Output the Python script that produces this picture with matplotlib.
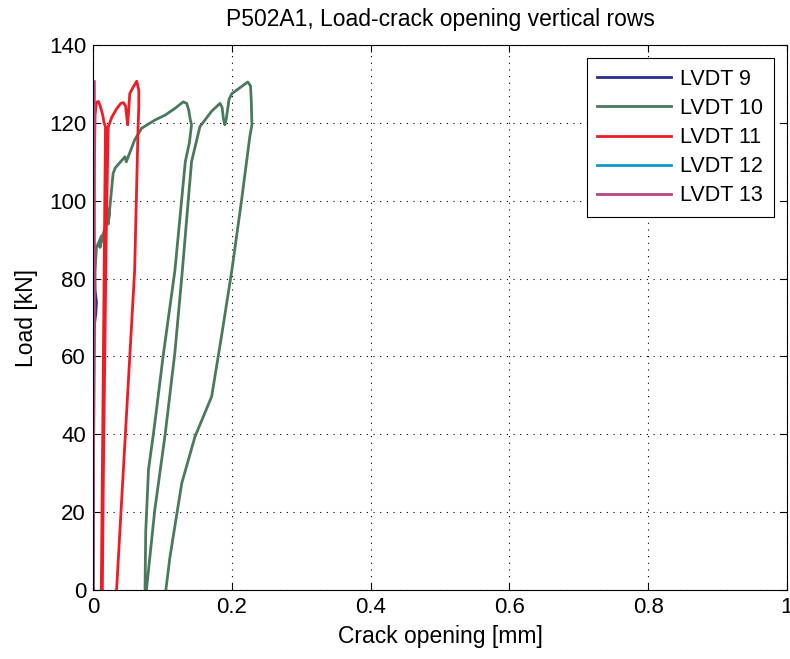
# Load-crack opening curves, P502A1 vertical rows

import numpy as np
import matplotlib.pyplot as plt

plt.rcParams['font.family'] = ['Liberation Sans', 'DejaVu Sans']

# LVDT 9 (mostly hidden along the load axis)
x9 = [0.0, 0.0005, 0.001, 0.002, 0.004, 0.005, 0.003, 0.001, 0.001]
y9 = [0.0, 30.0, 60.0, 68.0, 71.0, 74.0, 77.0, 90.0, 128.0]

# LVDT 10
x10 = [0.0, 0.001, 0.002, 0.003, 0.005, 0.0125, 0.010, 0.020, 0.024, 0.022, 0.029,
       0.032, 0.046, 0.048, 0.060, 0.070, 0.089, 0.104, 0.118, 0.130, 0.135,
       0.138, 0.140, 0.142, 0.139, 0.133, 0.118, 0.101, 0.092, 0.087, 0.080,
       0.076, 0.075, 0.077, 0.089, 0.104, 0.118, 0.128, 0.142, 0.154, 0.171,
       0.183, 0.186, 0.188, 0.190, 0.192, 0.196, 0.200, 0.210, 0.223, 0.227,
       0.228, 0.229, 0.226, 0.214, 0.200, 0.185, 0.171, 0.147, 0.128, 0.111, 0.105]
y10 = [0.0, 40.0, 70.0, 82.0, 88.0, 91.0, 88.0, 95.0, 98.0, 94.0, 107.0,
       108.4, 111.3, 110.0, 115.6, 118.6, 120.7, 122.0, 123.7, 125.4, 125.0,
       123.3, 121.0, 119.5, 115.0, 110.0, 82.0, 60.0, 47.0, 40.0, 31.0,
       15.0, 0.0, 0.0, 20.5, 40.0, 61.0, 80.5, 110.0, 119.0, 123.0,
       125.0, 124.0, 121.0, 119.5, 121.0, 126.0, 127.5, 128.8, 130.5, 129.5,
       126.0, 119.5, 116.5, 100.0, 82.0, 65.0, 49.7, 39.4, 27.5, 8.6, 0.0]

# LVDT 11
x11 = [0.0, 0.001, 0.002, 0.003, 0.005, 0.008, 0.011, 0.014, 0.016, 0.018,
       0.017, 0.015, 0.013, 0.012, 0.0135, 0.015, 0.017, 0.019, 0.021, 0.022,
       0.027, 0.034, 0.040, 0.044, 0.047, 0.049, 0.050, 0.051, 0.053, 0.058,
       0.063, 0.066, 0.066, 0.065, 0.060, 0.047, 0.034]
y11 = [0.0, 60.0, 110.0, 122.0, 125.3, 125.5, 124.0, 122.0, 120.0, 119.0,
       100.0, 60.0, 20.0, 0.0, 0.0, 30.0, 60.0, 90.0, 110.0, 119.0,
       121.4, 123.6, 125.0, 125.2, 124.3, 121.0, 119.5, 122.0, 127.5, 129.2,
       130.7, 128.4, 124.0, 119.0, 82.0, 41.0, 0.0]

# LVDT 12 (hidden along the load axis)
x12 = [0.0, 0.0005, 0.001, 0.001]
y12 = [0.0, 50.0, 100.0, 129.0]

# LVDT 13
x13 = [0.0, 0.001, 0.002, 0.0015, 0.002, 0.002]
y13 = [0.0, 40.0, 80.0, 100.0, 120.0, 130.6]

series = [(x9, y9, '#2b2b90', 'LVDT 9'),
          (x10, y10, '#4a7a5e', 'LVDT 10'),
          (x11, y11, '#ee1c25', 'LVDT 11'),
          (x12, y12, '#0a9ad0', 'LVDT 12'),
          (x13, y13, '#b8457f', 'LVDT 13')]

fig = plt.figure(figsize=(7.9, 6.59), dpi=100)
ax = fig.add_axes([0.1177, 0.1047, 0.8785, 0.827])

for x, y, c, lab in series:
    ax.plot(x, y, color=c, linewidth=2, label=lab)

ax.set_xlim(0, 1)
ax.set_ylim(0, 140)
ax.set_xticks([0, 0.2, 0.4, 0.6, 0.8, 1])
ax.set_xticklabels(['0', '0.2', '0.4', '0.6', '0.8', '1'])
ax.set_yticks(np.arange(0, 141, 20))
ax.tick_params(direction='in', top=True, right=True, labelsize=16, length=5, pad=5)
ax.grid(True, color='black', linestyle=(0, (1, 5)), linewidth=0.8)
for s in ax.spines.values():
    s.set_linewidth(0.8)

ax.set_xlabel('Crack opening [mm]', fontsize=16.5, labelpad=5)
ax.set_ylabel('Load [kN]', fontsize=16.5, labelpad=8)
ax.set_title('P502A1, Load-crack opening vertical rows', fontsize=16.5, pad=14)

leg = ax.legend(loc='upper right', fontsize=15.5, fancybox=False, framealpha=1,
                edgecolor='black', handlelength=3.4, borderaxespad=0.6,
                borderpad=0.5, labelspacing=0.38, handletextpad=0.45)
leg.get_frame().set_linewidth(0.8)

fig.savefig('out.png', dpi=100)
